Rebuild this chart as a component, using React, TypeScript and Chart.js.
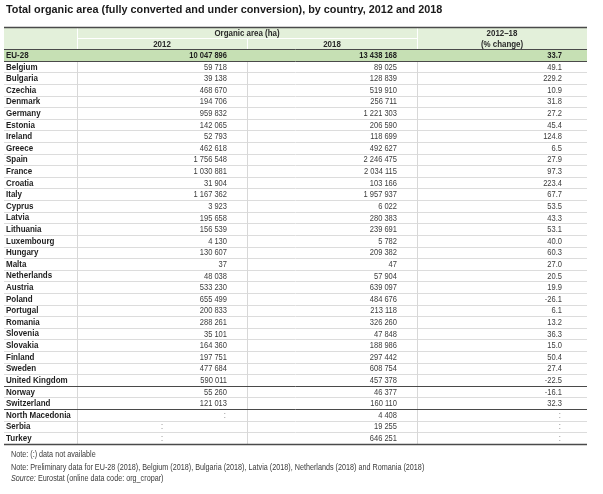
import React, { useEffect, useRef } from "react";
import { Chart, registerables } from "chart.js";

Chart.register(...registerables);

const titleText = "Total organic area (fully converted and under conversion), by country, 2012 and 2018";
const rowLabels = ["EU-28", "Belgium", "Bulgaria", "Czechia", "Denmark", "Germany", "Estonia", "Ireland", "Greece", "Spain", "France", "Croatia", "Italy", "Cyprus", "Latvia", "Lithuania", "Luxembourg", "Hungary", "Malta", "Netherlands", "Austria", "Poland", "Portugal", "Romania", "Slovenia", "Slovakia", "Finland", "Sweden", "United Kingdom", "Norway", "Switzerland", "North Macedonia", "Serbia", "Turkey"];
const area2012: (number | null)[] = [10047896, 59718, 39138, 468670, 194706, 959832, 142065, 52793, 462618, 1756548, 1030881, 31904, 1167362, 3923, 195658, 156539, 4130, 130607, 37, 48038, 533230, 655499, 200833, 288261, 35101, 164360, 197751, 477684, 590011, 55260, 121013, null, null, null];
const area2018: (number | null)[] = [13438168, 89025, 128839, 519910, 256711, 1221303, 206590, 118699, 492627, 2246475, 2034115, 103166, 1957937, 6022, 280383, 239691, 5782, 209382, 47, 57904, 639097, 484676, 213118, 326260, 47848, 188986, 297442, 608754, 457378, 46377, 160110, 4408, 19255, 646251];
const changePct: (number | null)[] = [33.7, 49.1, 229.2, 10.9, 31.8, 27.2, 45.4, 124.8, 6.5, 27.9, 97.3, 223.4, 67.7, 53.5, 43.3, 53.1, 40.0, 60.3, 27.0, 20.5, 19.9, -26.1, 6.1, 13.2, 36.3, 15.0, 50.4, 27.4, -22.5, -16.1, 32.3, null, null, null];
const groupHeader = "Organic area (ha)";
const yearHeaders = ["2012", "2018"];
const changeHeader = ["2012\u201318", "(% change)"];
const centeredNA2012 = ["Serbia", "Turkey"];
const notes = ["Note: (:) data not available", "Note: Preliminary data for EU-28 (2018), Belgium (2018), Bulgaria (2018), Latvia (2018), Netherlands (2018) and Romania (2018)"];
const sourceLabel = "Source:";
const sourceText = " Eurostat (online data code: org_cropar)";

const FAM = "'Liberation Sans', Arial, sans-serif";
const fmtNum = (n: number) => String(n).replace(/\B(?=(\d{3})+(?!\d))/g, " ");

function txt(ctx: CanvasRenderingContext2D, s: string, x: number, y: number, font: string, color: string, align: CanvasTextAlign, sx = 1) {
  ctx.save();
  ctx.font = font;
  ctx.fillStyle = color;
  ctx.textAlign = align;
  ctx.textBaseline = "middle";
  ctx.translate(x, y);
  ctx.scale(sx, 1);
  ctx.fillText(s, 0, 0);
  ctx.restore();
}

function hline(ctx: CanvasRenderingContext2D, x1: number, x2: number, y: number, color: string, w: number) {
  ctx.save();
  ctx.strokeStyle = color;
  ctx.lineWidth = w;
  ctx.beginPath();
  ctx.moveTo(x1, y);
  ctx.lineTo(x2, y);
  ctx.stroke();
  ctx.restore();
}
function vline(ctx: CanvasRenderingContext2D, x: number, y1: number, y2: number, color: string, w: number) {
  ctx.save();
  ctx.strokeStyle = color;
  ctx.lineWidth = w;
  ctx.beginPath();
  ctx.moveTo(x, y1);
  ctx.lineTo(x, y2);
  ctx.stroke();
  ctx.restore();
}

const tablePlugin = {
  id: "tablePlugin",
  beforeDatasetsDraw(chart: any) {
    const ctx: CanvasRenderingContext2D = chart.ctx;
    const xs = chart.scales.x;
    const ys = chart.scales.y;
    const left = 4;
    const right = xs.getPixelForValue(3);
    const yp = (v: number) => ys.getPixelForValue(v);
    const headTop = Math.round(yp(-2.41)) + 0.5;
    const headMid = Math.round(yp(-1.45)) + 0.5;
    const headBot = Math.round(yp(-0.5)) + 0.5;
    const euBot = Math.round(yp(0.5)) + 0.5;
    const bottom = Math.round(yp(rowLabels.length - 0.5)) + 0.5;

    ctx.save();
    ctx.fillStyle = "#e3f0da";
    ctx.fillRect(left, headTop, right - left, headBot - headTop);
    ctx.fillStyle = "#c6e0b4";
    ctx.fillRect(left, headBot, right - left, euBot - headBot);
    ctx.restore();

    for (let i = 1; i < rowLabels.length - 1; i++) {
      const y = Math.round(yp(i + 0.5)) + 0.5;
      hline(ctx, left, right, y, "#dcdcdc", 1);
    }
    for (let c = 0; c < 3; c++) {
      const x = Math.round(xs.getPixelForValue(c)) + 0.5;
      vline(ctx, x, euBot, bottom, "#d8d8d8", 1);
    }
    const x0 = Math.round(xs.getPixelForValue(0)) + 0.5;
    const x1 = Math.round(xs.getPixelForValue(1)) + 0.5;
    const x2 = Math.round(xs.getPixelForValue(2)) + 0.5;
    vline(ctx, x0, headTop, headBot, "#ffffff", 1);
    vline(ctx, x2, headTop, headBot, "#ffffff", 1);
    vline(ctx, x1, headMid, headBot, "#ffffff", 1);
    hline(ctx, x0, x2, headMid, "#ffffff", 1);

    const dark = "#4a4a4a";
    hline(ctx, left, right, headTop, dark, 1.5);
    hline(ctx, left, right, headBot, dark, 1);
    hline(ctx, left, right, euBot, dark, 1);
    const memberEnd = rowLabels.indexOf("United Kingdom");
    const efta = rowLabels.indexOf("Switzerland");
    hline(ctx, left, right, Math.round(yp(memberEnd + 0.5)) + 0.5, dark, 1);
    hline(ctx, left, right, Math.round(yp(efta + 0.5)) + 0.5, dark, 1);
    hline(ctx, left, right, bottom, dark, 1.5);

    txt(ctx, titleText, 6, 9.5, `bold 11.6px ${FAM}`, "#1a1a1a", "left", 0.935);

    const hb = `bold 9px ${FAM}`;
    const r1 = (headTop + headMid) / 2 + 0.5;
    const r2 = (headMid + headBot) / 2 + 0.5;
    txt(ctx, groupHeader, xs.getPixelForValue(1), r1, hb, "#2a2a2a", "center", 0.88);
    yearHeaders.forEach((h, i) => txt(ctx, h, xs.getPixelForValue(i + 0.5), r2, hb, "#2a2a2a", "center", 0.88));
    txt(ctx, changeHeader[0], xs.getPixelForValue(2.5), r1, hb, "#2a2a2a", "center", 0.88);
    txt(ctx, changeHeader[1], xs.getPixelForValue(2.5), r2, hb, "#2a2a2a", "center", 0.88);

    rowLabels.forEach((lab, i) => {
      txt(ctx, lab, 6, yp(i) + 0.5, `bold 8.9px ${FAM}`, "#1e1e1e", "left", 0.9);
    });

    const nf = `8.6px ${FAM}`;
    const sxn = 0.84;
    txt(ctx, notes[0], 11, bottom + 10.5, nf, "#3a3a3a", "left", sxn);
    txt(ctx, notes[1], 11, bottom + 23, nf, "#3a3a3a", "left", sxn);
    ctx.save();
    ctx.font = `italic 8.6px ${FAM}`;
    const w = ctx.measureText(sourceLabel).width * sxn;
    ctx.restore();
    txt(ctx, sourceLabel, 11, bottom + 34.5, `italic 8.6px ${FAM}`, "#3a3a3a", "left", sxn);
    txt(ctx, sourceText, 11 + w, bottom + 34.5, nf, "#3a3a3a", "left", sxn);
  },
  afterDatasetsDraw(chart: any) {
    const ctx: CanvasRenderingContext2D = chart.ctx;
    const xs = chart.scales.x;
    const half = (xs.getPixelForValue(1) - xs.getPixelForValue(0)) / 2;
    const cols = [area2012, area2018, changePct];
    chart.data.datasets.forEach((ds: any, di: number) => {
      const meta = chart.getDatasetMeta(di);
      const vals = cols[di];
      const pad = di === 2 ? 25 : 20;
      meta.data.forEach((el: any, i: number) => {
        const v = vals[i];
        const font = i === 0 ? `bold 9.2px ${FAM}` : `9.2px ${FAM}`;
        const color = i === 0 ? "#1e1e1e" : "#3c3c3c";
        if (v === null || v === undefined) {
          if (di === 0 && centeredNA2012.includes(rowLabels[i])) {
            txt(ctx, ":", el.x, el.y + 0.5, font, "#9a9a9a", "center");
          } else {
            txt(ctx, ":", el.x + half - pad - 1, el.y + 0.5, font, "#9a9a9a", "right");
          }
          return;
        }
        const s = di === 2 ? (v as number).toFixed(1) : fmtNum(v as number);
        txt(ctx, s, el.x + half - pad, el.y + 0.5, font, color, "right", 0.82);
      });
    });
  },
};

export default function App() {
  const ref = useRef<HTMLCanvasElement | null>(null);
  useEffect(() => {
    if (!ref.current) return;
    const mk = (c: number, label: string) => ({
      label,
      data: rowLabels.map((r) => ({ x: c + 0.5, y: r })),
      pointRadius: 0,
      pointHoverRadius: 0,
      showLine: false,
    });
    const chart = new Chart(ref.current, {
      type: "scatter",
      data: {
        datasets: [mk(0, yearHeaders[0]), mk(1, yearHeaders[1]), mk(2, changeHeader[0])],
      },
      options: {
        animation: false,
        responsive: false,
        devicePixelRatio: 1,
        events: [],
        layout: { padding: { top: 49.2, bottom: 50.2, left: 77, right: 16 } },
        plugins: { legend: { display: false }, tooltip: { enabled: false }, title: { display: false } },
        scales: {
          x: { type: "linear", min: 0, max: 3, display: false },
          y: { type: "category", labels: rowLabels, offset: true, display: false },
        },
      } as any,
      plugins: [tablePlugin],
    });
    return () => chart.destroy();
  }, []);
  return (
    <div style={{ position: "fixed", left: 0, top: 0, width: 603, height: 494, background: "#fff" }}>
      <canvas ref={ref} width={603} height={494} style={{ display: "block" }} />
    </div>
  );
}
